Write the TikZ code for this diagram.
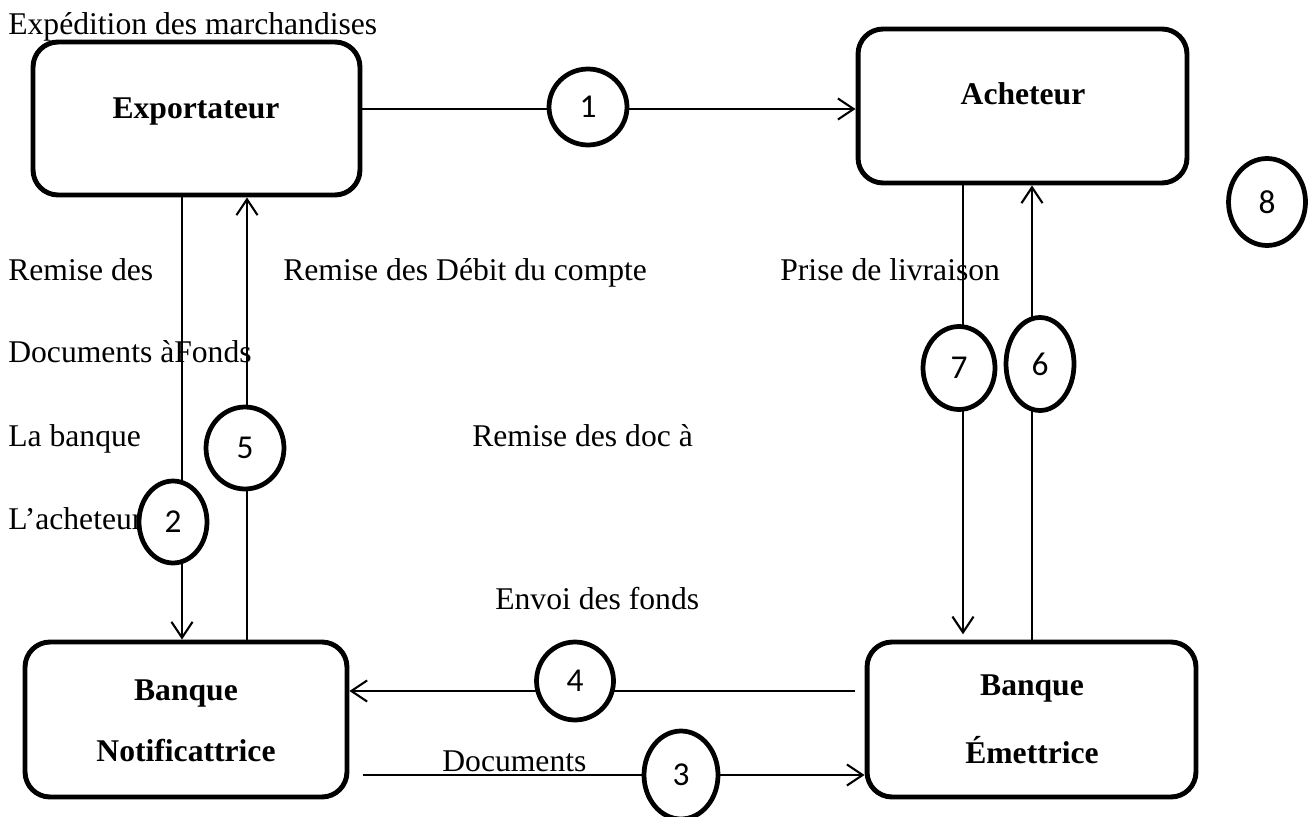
\documentclass[tikz,border=0pt]{standalone}
\usepackage{fontspec}
\setmainfont{Liberation Serif}
\newfontfamily\numfont{Carlito}
\usetikzlibrary{arrows.meta,shapes.geometric}

\tikzset{
  box/.style={draw, rounded corners=0.5cm, line width=2.8pt, inner sep=0pt},
  title/.style={anchor=base, inner sep=0pt, font=\fontsize{18}{21}\selectfont\bfseries},
  txt/.style={anchor=base west, inner sep=0pt},
  num/.style={draw, ellipse, fill=white, line width=2.7pt, inner sep=0pt,
    font=\numfont\fontsize{19}{19}\selectfont},
  link/.style={->, line width=1.2pt}
}

\begin{document}
\begin{tikzpicture}[x=0.02cm, y=-0.02cm, >={Straight Barb[length=9pt,width=12pt]},
  font=\fontsize{18}{21}\selectfont]
  \useasboundingbox (0,0) rectangle (1314,817);

  % boxes
  \node[box, minimum width=6.54cm, minimum height=3.06cm] (exp) at (196.5,118.5) {};
  \node[box, minimum width=6.58cm, minimum height=3.08cm] (ach) at (1022.5,106) {};
  \node[box, minimum width=6.44cm, minimum height=3.10cm] (notif) at (186,719.5) {};
  \node[box, minimum width=6.58cm, minimum height=3.10cm] (emet) at (1031.5,719.5) {};

  \node[title] (exp-t) at (196,119) {Exportateur};
  \node[title] (ach-t) at (1023,105) {Acheteur};
  \node[title] (notif-t1) at (186,700) {Banque};
  \node[title] (notif-t2) at (186,761) {Notificattrice};
  \node[title] (emet-t1) at (1032,695) {Banque};
  \node[title] (emet-t2) at (1032,763) {Émettrice};

  % free texts
  \node[txt] (t1) at (8,35) {Expédition des marchandises};
  \node[txt] (t2) at (8,281) {Remise des};
  \node[txt] (t3) at (283,281) {Remise des Débit du compte};
  \node[txt] (t4) at (780,281) {Prise de livraison};
  \node[txt] (t5) at (8,362) {Documents àFonds};
  \node[txt] (t6) at (8,446) {La banque};
  \node[txt] (t7) at (472,446) {Remise des doc à};
  \node[txt] (t8) at (8,529) {L’acheteur};
  \node[txt] (t9) at (495,609) {Envoi des fonds};
  \node[txt] (t10) at (442,771) {Documents};

  % flows
  \draw[link] (exp.east |- 0,109) -- (ach.west |- 0,109);
  \draw[link] (exp.south -| 182,0) -- (notif.north -| 182,0);
  \draw[link] (notif.north -| 247,0) -- (exp.south -| 247,0);
  \draw[link, shorten >=3pt] (ach.south -| 963,0) -- (emet.north -| 963,0);
  \draw[link] (emet.north -| 1032,0) -- (ach.south -| 1032,0);
  \draw[link, shorten <=5.7pt] (emet.west |- 0,691) -- (notif.east |- 0,691);
  \draw[link, shorten <=8pt] (notif.east |- 0,775) -- (emet.west |- 0,775);

  % step numbers
  \node[num, minimum width=1.56cm, minimum height=1.52cm] (n1) at (588,107) {1};
  \node[num, minimum width=1.36cm, minimum height=1.64cm] (n2) at (173,522) {2};
  \node[num, minimum width=1.48cm, minimum height=1.76cm] (n3) at (681,775) {3};
  \node[num, minimum width=1.54cm, minimum height=1.56cm] (n4) at (575,681) {4};
  \node[num, minimum width=1.56cm, minimum height=1.64cm] (n5) at (245,448) {5};
  \node[num, minimum width=1.36cm, minimum height=1.86cm] (n6) at (1040,364) {6};
  \node[num, minimum width=1.44cm, minimum height=1.66cm] (n7) at (959,368) {7};
  \node[num, minimum width=1.54cm, minimum height=1.74cm] (n8) at (1267,202) {8};
\end{tikzpicture}
\end{document}
